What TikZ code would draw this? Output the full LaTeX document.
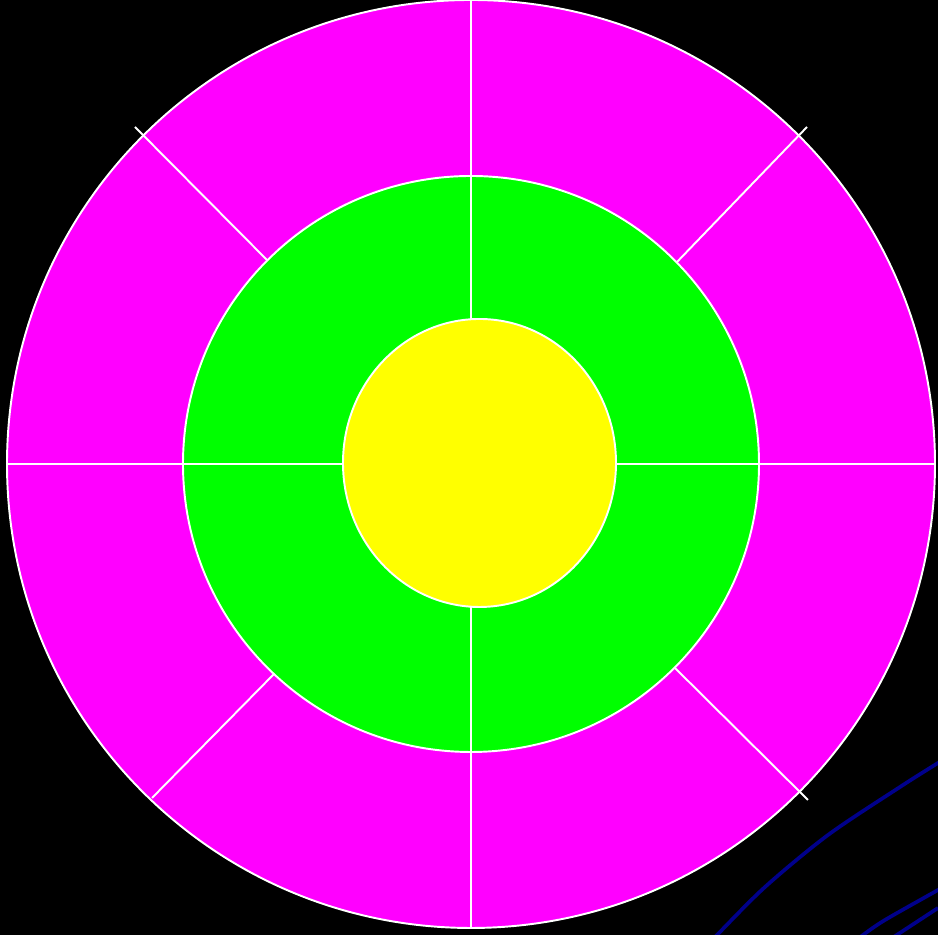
\documentclass[tikz,border=0pt]{standalone}
\definecolor{curveblue}{RGB}{0,0,139}
\definecolor{ringmagenta}{RGB}{255,0,255}
\definecolor{ringgreen}{RGB}{0,255,0}
\definecolor{coreyellow}{RGB}{255,255,0}
\begin{document}
\begin{tikzpicture}[x=0.02cm,y=0.02cm,line cap=butt,line join=miter,
	sep/.style={white,line width=1.1pt}]
			\fill[black] (0,0) rectangle (938,935);
			\clip (0,0) rectangle (938,935);
			\coordinate (O) at (471,471);
			\coordinate (Y) at (479.5,472);
			% rings
			\fill[ringmagenta] (O) circle (464);
			\fill[ringgreen] (O) circle (288);
			\draw[sep] (7,471) -- (935,471);
			\draw[sep] (471,7) -- (471,935);
			\draw[sep] (135,808) -- (267,675);
			\draw[sep] (807,808) -- (677,673);
			\draw[sep] (152,137) -- (274,261);
			\draw[sep] (675,267) -- (808,135);
			\draw[sep] (O) circle (464);
			\draw[sep] (O) circle (288);
			\draw[sep,fill=coreyellow] (Y) ellipse (136.5 and 144);
			% curves at the corner
			\draw[curveblue,line width=2.1pt,smooth] plot coordinates {(705,-12) (717,0) (765,48) (828,100) (900,148) (938,172) (950,179)};
			\draw[curveblue,line width=2.1pt,smooth] plot coordinates {(850,-10) (863,0) (885,15) (938,45) (950,52)};
			\draw[curveblue,line width=2.1pt] (880,-11) -- (938,27);
		\end{tikzpicture}
\end{document}
